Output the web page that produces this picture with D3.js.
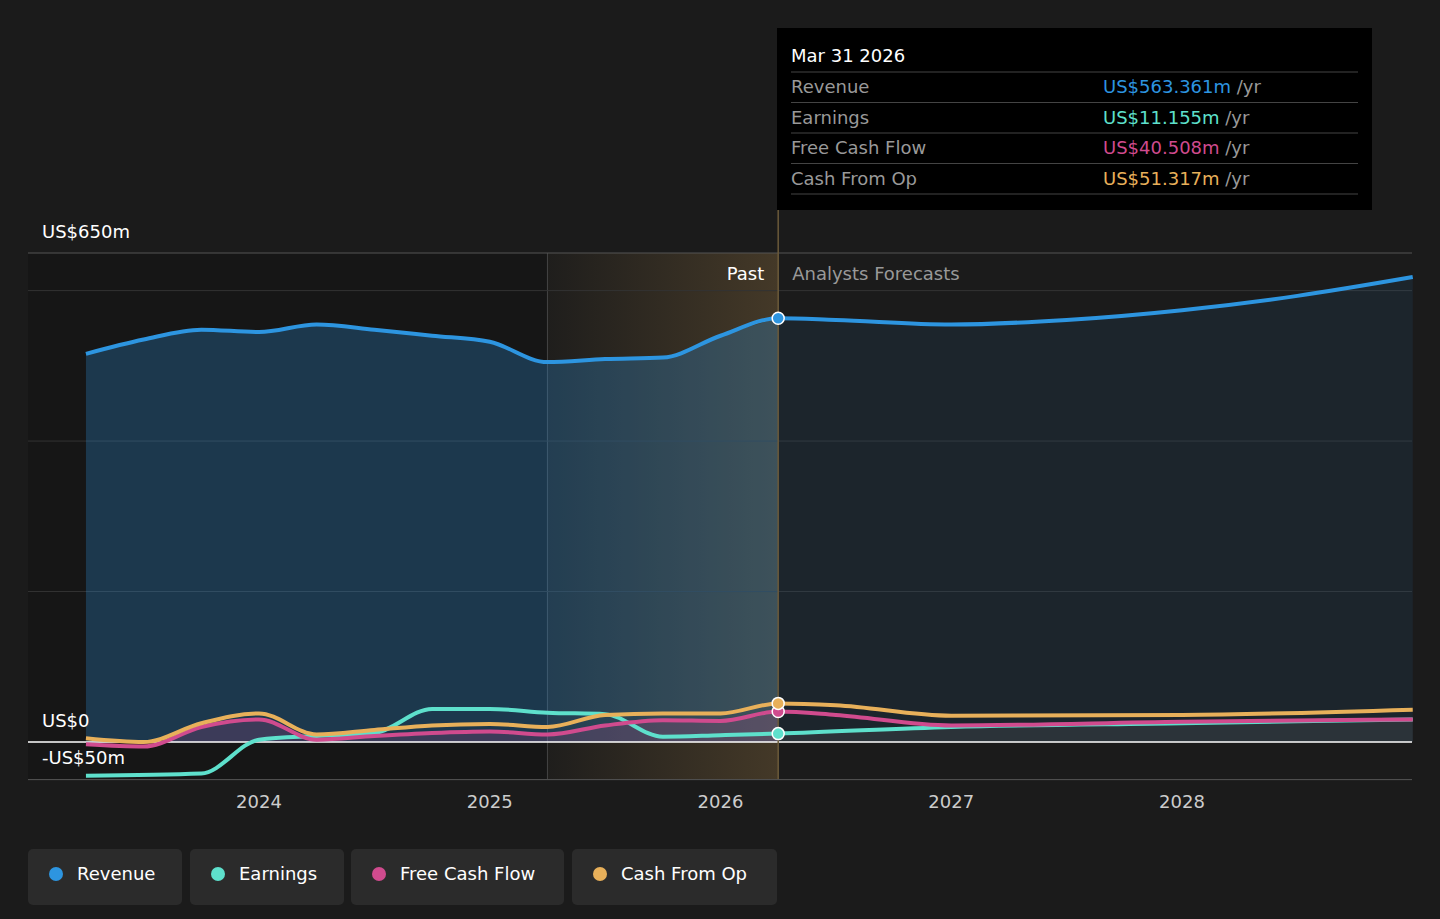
<!DOCTYPE html>
<html><head><meta charset="utf-8">
<script src="https://cdn.jsdelivr.net/npm/d3@7"></script>
<style>body{margin:0;background:#1b1b1b;font-family:"DejaVu Sans",sans-serif}</style>
</head><body><svg id="chart" width="1440" height="919"></svg>
<script>
var revenue = [[2023.25,516],[2023.5,535],[2023.75,548],[2024,545],[2024.25,555],[2024.5,548],[2024.75,540],[2025,532],[2025.25,505],[2025.5,509],[2025.75,511],[2026,540],[2026.25,563.361],[2026.5,561],[2027,555],[2027.5,561],[2028,574],[2028.5,593],[2029,618]];
var earnings = [[2023.25,-45],[2023.75,-42],[2024,3],[2024.25,8],[2024.5,12],[2024.75,44],[2025,44],[2025.25,39],[2025.5,37],[2025.75,7],[2026,9],[2026.25,11.155],[2027,20],[2028,25],[2029,30]];
var fcf = [[2023.25,-3],[2023.5,-6],[2023.75,20],[2024,30],[2024.25,3],[2024.5,8],[2024.75,12],[2025,14],[2025.25,10],[2025.5,22],[2025.75,29],[2026,28],[2026.25,40.508],[2026.5,36],[2027,22],[2028,27],[2029,30]];
var cfo = [[2023.25,5],[2023.5,0],[2023.75,25],[2024,38],[2024.25,10],[2024.5,16],[2024.75,22],[2025,24],[2025.25,20],[2025.5,36],[2025.75,38],[2026,38],[2026.25,51.317],[2026.5,49],[2027,35],[2028,36],[2029,43]];
var years = [2024,2025,2026,2027,2028];
var seriesNames = ["Revenue","Earnings","Free Cash Flow","Cash From Op"];
var colors = ["#2d95e0","#5ee0cc","#d04b8e","#e8b05a"];
var tipValues = ["US$563.361m","US$11.155m","US$40.508m","US$51.317m"];
var today = 2026.25, pastStart = 2025.25;

var svg = d3.select("#chart");
var x = d3.scaleLinear().domain([2023, 2029]).range([28.5, 1412.5]);
x = d3.scaleLinear().domain([2024, 2028]).range([259, 1182]);
var y = d3.scaleLinear().domain([0, 650]).range([742, 253]);
var L = 28, R = 1412;

// past background
svg.append("rect").attr("x", L).attr("y", 253).attr("width", x(pastStart) - L).attr("height", 779 - 253).attr("fill", "#161616");
var defs = svg.append("defs");
var g1 = defs.append("linearGradient").attr("id", "hl").attr("x1", 0).attr("x2", 1);
g1.append("stop").attr("offset", 0).attr("stop-color", "#e8b05a").attr("stop-opacity", 0.02);
g1.append("stop").attr("offset", 1).attr("stop-color", "#e8b05a").attr("stop-opacity", 0.2);
svg.append("rect").attr("x", x(pastStart)).attr("y", 253).attr("width", x(today) - x(pastStart)).attr("height", 779 - 253).attr("fill", "url(#hl)");
svg.append("line").attr("x1", x(pastStart)).attr("x2", x(pastStart)).attr("y1", 253).attr("y2", 779).attr("stroke", "#444");

// grid
[650, 600, 400, 200, -50].forEach(function (v) {
  svg.append("line").attr("x1", L).attr("x2", R).attr("y1", y(v)).attr("y2", y(v)).attr("stroke", v == 650 || v == -50 ? "#555" : "#333");
});

var line = d3.line().x(d => x(d[0])).y(d => y(d[1])).curve(d3.curveMonotoneX);
var area = d3.area().x(d => x(d[0])).y0(y(0)).y1(d => y(d[1])).curve(d3.curveMonotoneX);
function split(a) { return [a.filter(d => d[0] <= today), a.filter(d => d[0] >= today)]; }

var rv = split(revenue);
svg.append("path").attr("d", area(rv[0])).attr("fill", "#2d95e0").attr("fill-opacity", 0.28);
svg.append("path").attr("d", area(rv[1])).attr("fill", "#2d95e0").attr("fill-opacity", 0.09);
var fv = split(fcf);
svg.append("path").attr("d", area(fv[0])).attr("fill", "#d04b8e").attr("fill-opacity", 0.18);
var ev = split(earnings);
svg.append("path").attr("d", area(ev[1])).attr("fill", "#888").attr("fill-opacity", 0.15);

svg.append("line").attr("x1", L).attr("x2", R).attr("y1", y(0)).attr("y2", y(0)).attr("stroke", "#fff").attr("stroke-width", 1.5);

var all = [revenue, earnings, fcf, cfo];
[1, 2, 3, 0].forEach(function (i) {
  svg.append("path").attr("d", line(all[i])).attr("fill", "none").attr("stroke", colors[i]).attr("stroke-width", 4);
});
svg.append("line").attr("x1", x(today)).attr("x2", x(today)).attr("y1", 210).attr("y2", 779).attr("stroke", "#6b5a3a").attr("stroke-width", 1.5);
[0, 1, 2, 3].forEach(function (i) {
  var v = all[i].find(d => d[0] == today)[1];
  svg.append("circle").attr("cx", x(today)).attr("cy", y(v)).attr("r", 6).attr("fill", colors[i]).attr("stroke", "#fff").attr("stroke-width", 1.5);
});

// axes labels
svg.append("text").attr("x", 42).attr("y", 238).attr("fill", "#fff").attr("font-size", 18).text("US$650m");
svg.append("text").attr("x", 42).attr("y", 727).attr("fill", "#fff").attr("font-size", 18).text("US$0");
svg.append("text").attr("x", 42).attr("y", 764).attr("fill", "#fff").attr("font-size", 18).text("-US$50m");
years.forEach(function (yr) {
  svg.append("text").attr("x", x(yr)).attr("y", 808).attr("text-anchor", "middle").attr("fill", "#ccc").attr("font-size", 18).text(yr);
});
svg.append("text").attr("x", x(today) - 14).attr("y", 280).attr("text-anchor", "end").attr("fill", "#fff").attr("font-size", 18).text("Past");
svg.append("text").attr("x", x(today) + 14).attr("y", 280).attr("fill", "#999").attr("font-size", 18).text("Analysts Forecasts");

// tooltip
svg.append("rect").attr("x", 777).attr("y", 28).attr("width", 595).attr("height", 182).attr("fill", "#000");
svg.append("text").attr("x", 791).attr("y", 62).attr("fill", "#fff").attr("font-size", 18).text("Mar 31 2026");
seriesNames.forEach(function (n, i) {
  var ty = 72 + i * 30.5;
  svg.append("line").attr("x1", 791).attr("x2", 1358).attr("y1", ty).attr("y2", ty).attr("stroke", "#444");
  svg.append("text").attr("x", 791).attr("y", ty + 21).attr("fill", "#999").attr("font-size", 18).text(n);
  var t = svg.append("text").attr("x", 1103).attr("y", ty + 21).attr("font-size", 18);
  t.append("tspan").attr("fill", colors[i]).text(tipValues[i]);
  t.append("tspan").attr("fill", "#999").text(" /yr");
});
svg.append("line").attr("x1", 791).attr("x2", 1358).attr("y1", 194).attr("y2", 194).attr("stroke", "#444");

// legend
var lx = [28, 190, 351, 572], lw = [154, 154, 213, 205];
seriesNames.forEach(function (n, i) {
  svg.append("rect").attr("x", lx[i]).attr("y", 849).attr("width", lw[i]).attr("height", 56).attr("rx", 5).attr("fill", "#2b2b2b");
  svg.append("circle").attr("cx", lx[i] + 28).attr("cy", 874).attr("r", 7).attr("fill", colors[i]);
  svg.append("text").attr("x", lx[i] + 49).attr("y", 880).attr("fill", "#fff").attr("font-size", 18).text(n);
});
</script></body></html>
